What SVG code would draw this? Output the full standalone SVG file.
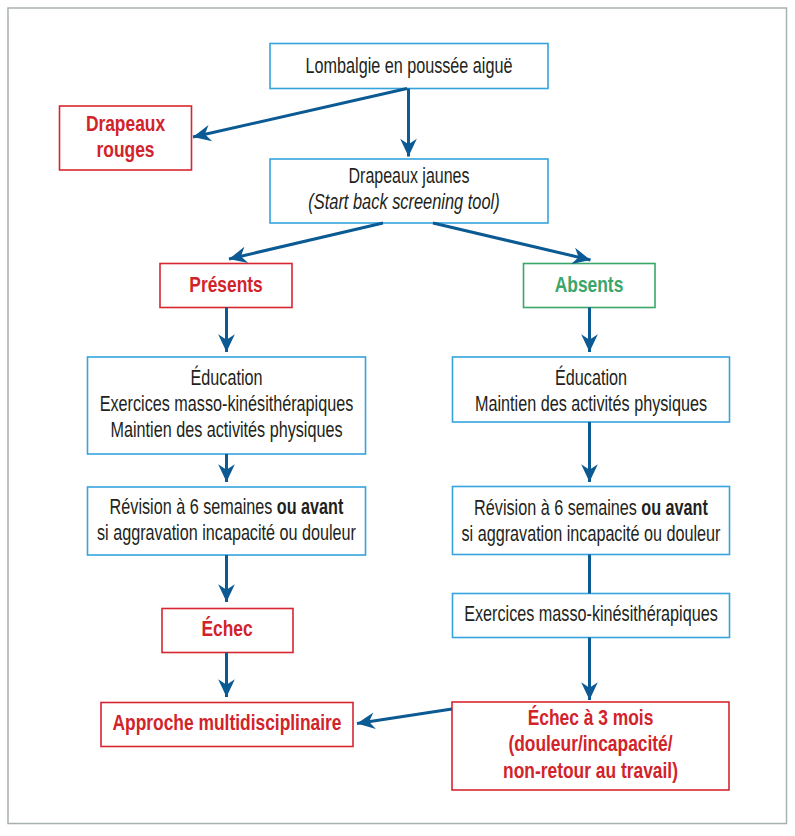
<svg xmlns="http://www.w3.org/2000/svg" width="795" height="836" viewBox="0 0 795 836">
<defs>
<marker id="ah" markerUnits="userSpaceOnUse" markerWidth="20" markerHeight="20" viewBox="-17 -9 18 18" refX="0" refY="0" orient="auto">
<path d="M0,0 L-16,-7.5 L-11,0 L-16,7.5 Z" fill="#0b5a93"/>
</marker>
<style>
.frame{fill:#fff;stroke:#a9b0b0;stroke-width:1.5}
.bb{fill:#fff;stroke:#35a3dc;stroke-width:1.6}
.rb{fill:#fff;stroke:#d7262f;stroke-width:1.6}
.gb{fill:#fff;stroke:#3aa66a;stroke-width:1.6}
text{font-family:"Liberation Sans",Arial,sans-serif;font-size:21.5px;text-anchor:middle}
.t{fill:#231f20}
.r{fill:#d2232a;font-weight:bold}
.g{fill:#3aa66a;font-weight:bold}
.b{font-weight:bold}
.i{font-style:italic}
.c line{stroke:#0b5a93;stroke-width:3;marker-end:url(#ah)}
.c line.n{marker-end:none}
</style>
</defs>
<rect class="frame" x="8" y="8" width="778.5" height="815.5"/>
<g id="lombalgie"><rect class="bb" x="270" y="43.5" width="278" height="45"/><text class="t" transform="matrix(0.753 0 0 1 409 0)" x="0" y="73.5">Lombalgie en poussée aiguë</text></g>
<g id="rouges"><rect class="rb" x="59.5" y="106" width="132" height="64"/><text class="r" transform="matrix(0.809 0 0 1 125.5 0)" x="0" y="131.5">Drapeaux</text><text class="r" transform="matrix(0.809 0 0 1 125.5 0)" x="0" y="157">rouges</text></g>
<g id="jaunes"><rect class="bb" x="270" y="159" width="278" height="64"/><text class="t" transform="matrix(0.745 0 0 1 409 0)" x="0" y="183.5">Drapeaux jaunes</text><text class="t i" transform="matrix(0.763 0 0 1 404 0)" x="0" y="209.5">(Start back screening tool)</text></g>
<g id="presents"><rect class="rb" x="160" y="263.5" width="132" height="44"/><text class="r" transform="matrix(0.809 0 0 1 226 0)" x="0" y="292.5">Présents</text></g>
<g id="absents"><rect class="gb" x="523.5" y="263.5" width="131.5" height="44"/><text class="g" transform="matrix(0.809 0 0 1 589 0)" x="0" y="292.5">Absents</text></g>
<g id="edu-left"><rect class="bb" x="87.5" y="357" width="278" height="97"/><text class="t" transform="matrix(0.753 0 0 1 226.5 0)" x="0" y="385">Éducation</text><text class="t" transform="matrix(0.753 0 0 1 226.5 0)" x="0" y="411.5">Exercices masso-kinésithérapiques</text><text class="t" transform="matrix(0.753 0 0 1 226.5 0)" x="0" y="437.5">Maintien des activités physiques</text></g>
<g id="rev-left"><rect class="bb" x="87.5" y="487" width="278" height="68"/><text class="t" transform="matrix(0.753 0 0 1 226.5 0)" x="0" y="514.5">Révision à 6 semaines <tspan class="b">ou avant</tspan></text><text class="t" transform="matrix(0.753 0 0 1 226.5 0)" x="0" y="540.5">si aggravation incapacité ou douleur</text></g>
<g id="echec-left"><rect class="rb" x="162" y="608.5" width="131" height="44"/><text class="r" transform="matrix(0.809 0 0 1 227 0)" x="0" y="636">Échec</text></g>
<g id="approche"><rect class="rb" x="101" y="702.5" width="252" height="44"/><text class="r" transform="matrix(0.809 0 0 1 227 0)" x="0" y="730.5">Approche multidisciplinaire</text></g>
<g id="edu-right"><rect class="bb" x="452.5" y="357" width="277" height="65"/><text class="t" transform="matrix(0.753 0 0 1 591 0)" x="0" y="385">Éducation</text><text class="t" transform="matrix(0.753 0 0 1 591 0)" x="0" y="411.5">Maintien des activités physiques</text></g>
<g id="rev-right"><rect class="bb" x="452.5" y="486.5" width="277" height="68"/><text class="t" transform="matrix(0.753 0 0 1 591 0)" x="0" y="515">Révision à 6 semaines <tspan class="b">ou avant</tspan></text><text class="t" transform="matrix(0.753 0 0 1 591 0)" x="0" y="541.5">si aggravation incapacité ou douleur</text></g>
<g id="exer-right"><rect class="bb" x="452.5" y="593.5" width="277" height="44"/><text class="t" transform="matrix(0.753 0 0 1 591 0)" x="0" y="621.5">Exercices masso-kinésithérapiques</text></g>
<g id="echec-3mois"><rect class="rb" x="452" y="702" width="277" height="88"/><text class="r" transform="matrix(0.809 0 0 1 590.5 0)" x="0" y="725">Échec à 3 mois</text><text class="r" transform="matrix(0.809 0 0 1 590.5 0)" x="0" y="751.5">(douleur/incapacité/</text><text class="r" transform="matrix(0.809 0 0 1 590.5 0)" x="0" y="778">non-retour au travail)</text></g>
<g id="connectors" class="c">
<line x1="407" y1="88.5" x2="193" y2="137"/>
<line x1="408.5" y1="88.5" x2="408.5" y2="156.5"/>
<line x1="383" y1="223" x2="229" y2="259"/>
<line x1="433" y1="223" x2="590.5" y2="260"/>
<line x1="226.5" y1="307.5" x2="226.5" y2="352"/>
<line x1="589.5" y1="307.5" x2="589.5" y2="352"/>
<line x1="226.5" y1="454" x2="226.5" y2="482"/>
<line x1="589.5" y1="422" x2="589.5" y2="482"/>
<line x1="226.5" y1="555" x2="226.5" y2="602"/>
<line class="n" x1="589.5" y1="554.5" x2="589.5" y2="593.5"/>
<line x1="226.5" y1="652.5" x2="226.5" y2="697"/>
<line x1="589.5" y1="637.5" x2="589.5" y2="700"/>
<line x1="452" y1="709" x2="357" y2="723.5"/>
</g>
</svg>
